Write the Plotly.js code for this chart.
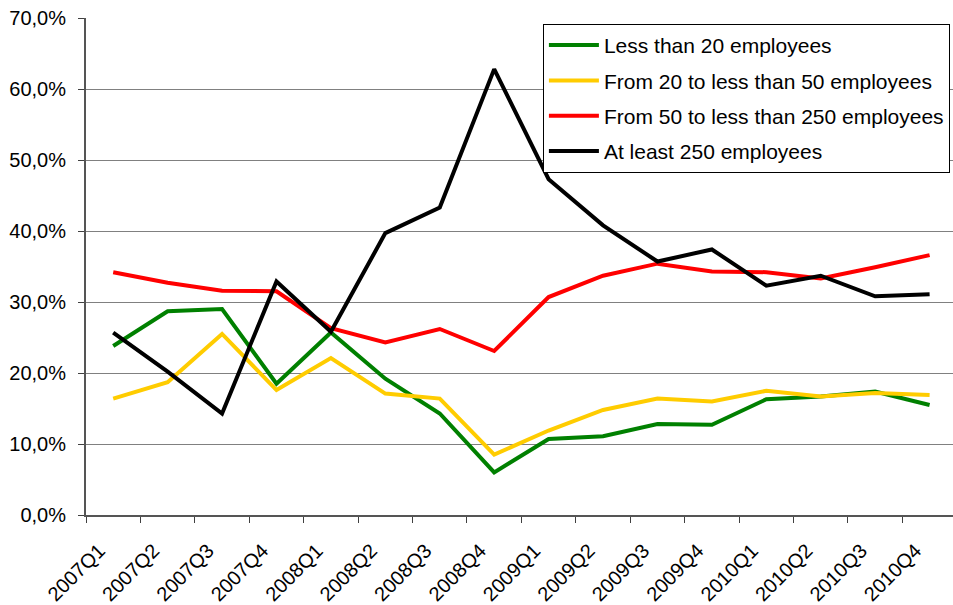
<!DOCTYPE html>
<html>
<head>
<meta charset="utf-8">
<script src="https://cdn.plot.ly/plotly-3.0.1.min.js"></script>
<style>
  html, body { margin: 0; padding: 0; background: #ffffff; }
  #chart { width: 953px; height: 605px; }
</style>
</head>
<body>
<div id="chart"></div>
<script>
// Quarterly shares (%) by enterprise size class
const quarters = ["2007Q1", "2007Q2", "2007Q3", "2007Q4",
                  "2008Q1", "2008Q2", "2008Q3", "2008Q4",
                  "2009Q1", "2009Q2", "2009Q3", "2009Q4",
                  "2010Q1", "2010Q2", "2010Q3", "2010Q4"];

const lessThan20 = [23.8, 28.7, 29.0, 18.5, 25.7, 19.2, 14.3, 6.0,
                    10.7, 11.1, 12.8, 12.7, 16.3, 16.7, 17.4, 15.5];
const from20to50 = [16.4, 18.7, 25.5, 17.6, 22.1, 17.1, 16.4, 8.5,
                    11.9, 14.8, 16.4, 16.0, 17.5, 16.7, 17.2, 16.9];
const from50to250 = [34.2, 32.7, 31.6, 31.5, 26.3, 24.3, 26.2, 23.1,
                     30.7, 33.7, 35.4, 34.3, 34.2, 33.3, 34.9, 36.6];
const atLeast250 = [25.7, 20.2, 14.3, 32.9, 25.8, 39.7, 43.3, 62.8,
                    47.3, 40.8, 35.7, 37.4, 32.3, 33.7, 30.8, 31.1];

const seriesNames = ["Less than 20 employees",
                     "From 20 to less than 50 employees",
                     "From 50 to less than 250 employees",
                     "At least 250 employees"];
const seriesValues = [lessThan20, from20to50, from50to250, atLeast250];
const seriesColors = ["#008000", "#FFCC00", "#FF0000", "#000000"];

const traces = seriesValues.map((vals, i) => ({
  type: "scatter",
  mode: "lines",
  x: quarters,
  y: vals,
  name: seriesNames[i],
  legendgroup: "g" + i,
  line: { color: seriesColors[i], width: 4 },
  hoverinfo: "x+y+name"
}));

const fontFamily = "Arial, 'Liberation Sans', sans-serif";

const layout = {
  width: 953,
  height: 605,
  margin: { l: 86, r: 0, t: 18, b: 90 },
  paper_bgcolor: "#ffffff",
  plot_bgcolor: "#ffffff",
  separators: ", ",
  font: { family: fontFamily, size: 20, color: "#000000" },
  showlegend: true,
  legend: {
    x: 0.527, y: 0.988,
    xanchor: "left", yanchor: "top",
    bgcolor: "#ffffff",
    bordercolor: "#000000",
    borderwidth: 1,
    font: { family: fontFamily, size: 21, color: "#000000" },
    tracegroupgap: 5,
    traceorder: "grouped",
    itemwidth: 50
  },
  xaxis: {
    type: "category",
    range: [-0.5, 15.43],
    tickson: "boundaries",
    ticks: "outside",
    ticklen: 6,
    tickwidth: 1,
    tickcolor: "#404040",
    tickangle: -45,
    ticklabelstandoff: 14,
    ticklabelshift: -14,
    tickfont: { family: fontFamily, size: 20, color: "#000000" },
    showgrid: false,
    showline: true,
    linecolor: "#555555",
    linewidth: 2,
    zeroline: false
  },
  yaxis: {
    range: [0, 70],
    dtick: 10,
    tick0: 0,
    tickformat: ".1f",
    ticksuffix: "%",
    ticks: "outside",
    ticklen: 6,
    tickwidth: 1,
    tickcolor: "#404040",
    ticklabelstandoff: 8,
    tickfont: { family: fontFamily, size: 20, color: "#000000" },
    showgrid: true,
    gridcolor: "#808080",
    gridwidth: 1,
    showline: true,
    linecolor: "#555555",
    linewidth: 2,
    zeroline: false
  }
};

Plotly.newPlot("chart", traces, layout, { displayModeBar: false, responsive: false });
</script>
</body>
</html>
